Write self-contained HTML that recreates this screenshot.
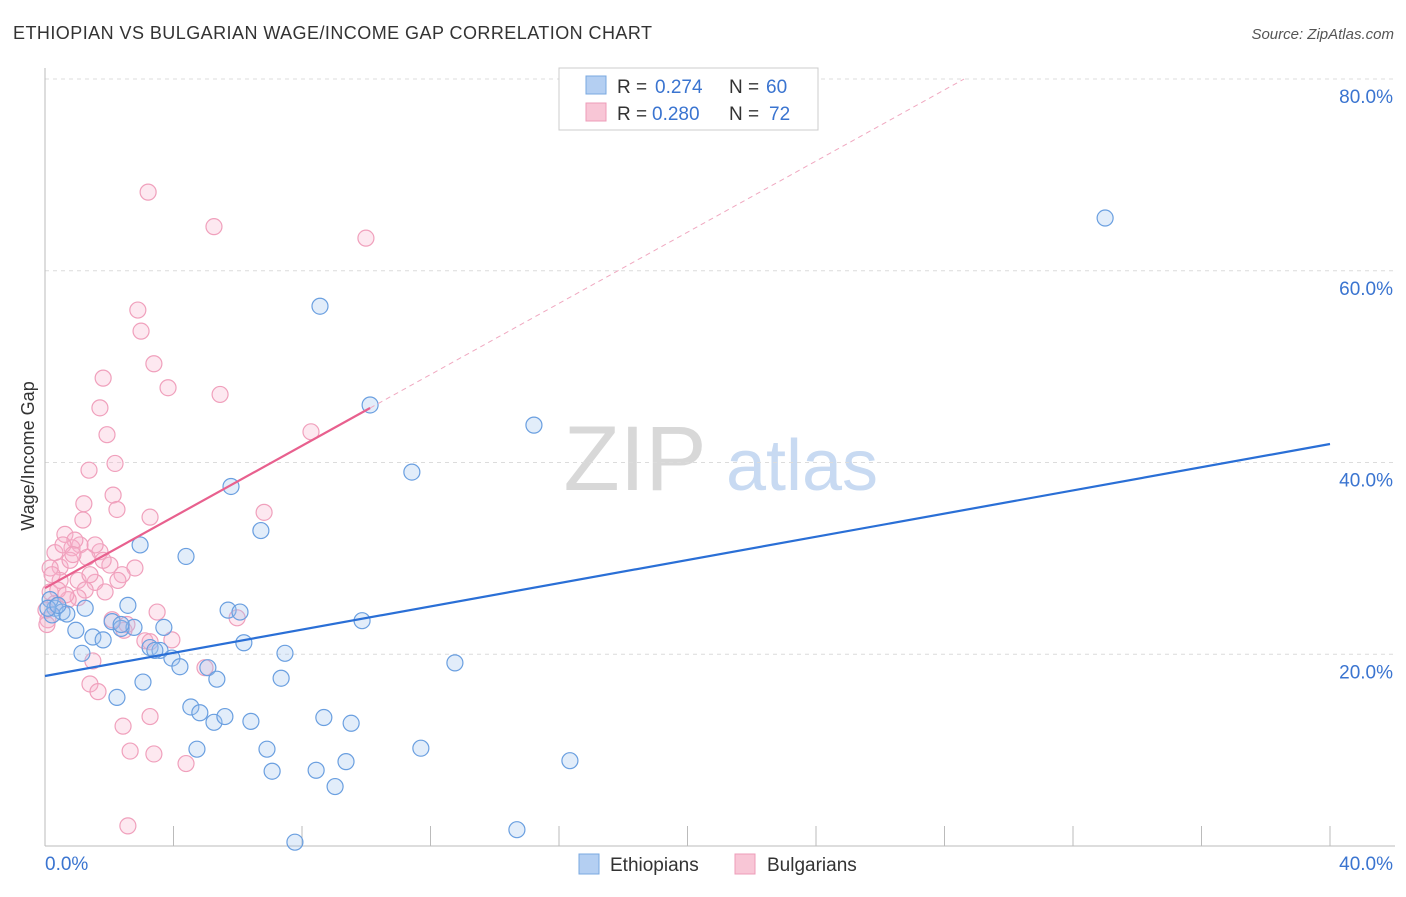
<!DOCTYPE html>
<html><head><meta charset="utf-8"><style>
body{margin:0;background:#fff;font-family:"Liberation Sans",sans-serif}
svg text{font-family:"Liberation Sans",sans-serif}
</style></head><body>
<svg id="chart" width="1406" height="892" xmlns="http://www.w3.org/2000/svg">
<text x="13" y="39" font-size="18" fill="#333" textLength="639" lengthAdjust="spacing">ETHIOPIAN VS BULGARIAN WAGE/INCOME GAP CORRELATION CHART</text>
<text x="1394" y="39" font-size="15" fill="#555" text-anchor="end" font-style="italic">Source: ZipAtlas.com</text>
<text transform="translate(34,456) rotate(-90)" font-size="18" fill="#333" text-anchor="middle">Wage/Income Gap</text>
<g><text x="635" y="490" font-size="92" fill="#d8d8d8" text-anchor="middle" font-family="Liberation Serif">ZIP</text><text x="802" y="490" font-size="72" fill="#c8daf2" text-anchor="middle">atlas</text></g>
<g id="grid"></g><g id="axes"></g><g id="pts"></g><g id="trend"></g>
<g>
<rect x="559" y="68" width="259" height="62" fill="#fff" stroke="#ccc"/>
<rect x="586" y="76" width="20" height="18" fill="#b4cff2" stroke="#7aa8e0"/>
<rect x="586" y="103" width="20" height="18" fill="#f8c6d6" stroke="#ee9cb8"/>
<text x="617" y="93" font-size="19" fill="#333">R =</text>
<text x="655" y="93" font-size="19" fill="#3a74d0">0.274</text>
<text x="729" y="93" font-size="19" fill="#333">N =</text>
<text x="766" y="93" font-size="19" fill="#3a74d0">60</text>
<text x="617" y="120" font-size="19" fill="#333">R =</text>
<text x="652" y="120" font-size="19" fill="#3a74d0">0.280</text>
<text x="729" y="120" font-size="19" fill="#333">N =</text>
<text x="769" y="120" font-size="19" fill="#3a74d0">72</text>
</g>
<g>
<rect x="579" y="854" width="20" height="20" fill="#b4cff2" stroke="#7aa8e0"/>
<text x="610" y="871" font-size="19" fill="#333">Ethiopians</text>
<rect x="735" y="854" width="20" height="20" fill="#f8c6d6" stroke="#ee9cb8"/>
<text x="767" y="871" font-size="19" fill="#333">Bulgarians</text>
</g>
</svg>
<script>
const yTicks=[20,40,60,80];
const yTickLabels=["20.0%","40.0%","60.0%","80.0%"];
const xTicks=[0,4,8,12,16,20,24,28,32,36,40];
const ethX=[33.0,8.56,10.12,15.22,11.42,5.79,2.96,4.39,6.72,0.31,0.53,1.25,0.68,2.58,5.70,6.07,0.96,1.49,1.81,2.09,2.37,2.77,3.70,6.19,1.15,3.27,3.58,3.95,4.20,5.07,7.47,9.87,12.76,3.05,2.24,5.35,7.35,4.54,4.82,5.26,5.60,6.41,8.68,9.53,4.73,6.91,11.70,16.34,7.07,8.44,9.37,9.03,7.78,14.69,0.16,0.22,0.09,0.40,3.42,2.37];
const ethY=[65.5,56.3,46.0,43.9,39.0,37.5,31.4,30.2,32.9,24.8,24.4,24.8,24.2,25.1,24.6,24.4,22.5,21.8,21.5,23.4,22.7,22.8,22.8,21.2,20.1,20.7,20.4,19.6,18.7,18.6,20.1,23.5,19.1,17.1,15.5,17.4,17.5,14.5,13.9,12.9,13.5,13.0,13.4,12.8,10.1,10.1,10.2,8.9,7.8,7.9,8.8,6.2,0.4,1.7,25.7,24.1,24.8,25.1,20.4,23.1];
const bulX=[3.21,5.26,9.99,2.89,2.99,3.39,3.83,5.45,1.81,1.71,1.93,1.37,2.18,8.28,1.21,2.12,2.24,3.27,6.82,0.62,1.09,1.71,0.31,0.84,0.47,0.16,1.31,1.56,0.93,2.02,2.80,1.03,2.40,1.56,0.47,1.25,1.87,1.03,0.16,0.31,3.49,2.09,2.46,5.98,3.11,3.95,4.98,1.49,1.40,1.65,2.43,3.27,2.65,3.39,4.39,2.58,0.09,0.78,0.56,0.22,0.72,1.40,1.81,3.27,2.55,2.27,0.40,0.65,1.18,0.87,0.03,0.06];
const bulY=[68.2,64.6,63.4,55.9,53.7,50.3,47.8,47.1,48.8,45.7,42.9,39.2,39.9,43.2,35.7,36.6,35.1,34.3,34.8,32.5,31.4,30.7,30.6,31.1,29.1,29.0,30.1,31.4,31.9,29.3,29.0,27.7,28.3,27.5,27.7,26.7,26.5,25.9,26.5,25.3,24.4,23.6,22.5,23.8,21.4,21.5,18.6,19.3,16.9,16.1,12.5,13.5,9.9,9.6,8.6,2.1,23.6,29.8,31.4,28.3,25.7,28.3,29.8,21.3,23.1,27.7,26.7,26.2,34.0,30.4,24.6,23.1];
const ethTrend=[17.73,41.93];
const bulTrend=[26.9,1.856];
const NS="http://www.w3.org/2000/svg";
const X=v=>45+v*32.125, Y=v=>846-v*9.5875;
function mk(tag,attrs,parent){const e=document.createElementNS(NS,tag);for(const k in attrs)e.setAttribute(k,attrs[k]);document.getElementById(parent).appendChild(e);return e;}
yTicks.forEach((t,i)=>{
 const l=mk('line',{x1:45,x2:1395,y1:Y(t),y2:Y(t),stroke:'#dcdcdc','stroke-dasharray':'4,4'},'grid');
 
 
 const tx=mk('text',{x:1393,y:Y(t)+24,'font-size':19,fill:'#3a74d0','text-anchor':'end'},'grid');
 tx.textContent=yTickLabels[i];
 
 
});
const ax=mk('line',{x1:45,x2:1395,y1:846,y2:846,stroke:'#bbb'},'axes');


const ay=mk('line',{x1:45,x2:45,y1:68,y2:846,stroke:'#bbb'},'axes');


xTicks.forEach(t=>{
 const l=mk('line',{x1:X(t),x2:X(t),y1:826,y2:846,stroke:'#bbb'},'axes');
 
 
});
let t0=mk('text',{x:45,y:870,'font-size':19,fill:'#3a74d0'},'axes');t0.textContent='0.0%';


let t1=mk('text',{x:1393,y:870,'font-size':19,fill:'#3a74d0','text-anchor':'end'},'axes');t1.textContent='40.0%';


bulX.forEach((x,i)=>{
 const c=mk('circle',{cx:X(x),cy:Y(bulY[i]),r:8,fill:'rgba(248,180,204,0.3)',stroke:'#f0a0bc','stroke-width':1.2},'pts');
 
 
});
ethX.forEach((x,i)=>{
 const c=mk('circle',{cx:X(x),cy:Y(ethY[i]),r:8,fill:'rgba(160,196,240,0.3)',stroke:'#6a9fe0','stroke-width':1.2},'pts');
 
 
});
const el=mk('line',{x1:X(0),y1:Y(ethTrend[0]),x2:X(40),y2:Y(ethTrend[1]),stroke:'#2a6fd6','stroke-width':2.2},'trend');


const bEnd=(80-bulTrend[0])/bulTrend[1];
const bd=mk('line',{x1:X(10.12),y1:Y(bulTrend[0]+bulTrend[1]*10.12),x2:X(bEnd),y2:Y(80),stroke:'#f0a8c0','stroke-width':1,'stroke-dasharray':'5,4'},'trend');


const bl=mk('line',{x1:X(0),y1:Y(bulTrend[0]),x2:X(10.12),y2:Y(bulTrend[0]+bulTrend[1]*10.12),stroke:'#e8608e','stroke-width':2.2},'trend');


</script>
</body></html>
